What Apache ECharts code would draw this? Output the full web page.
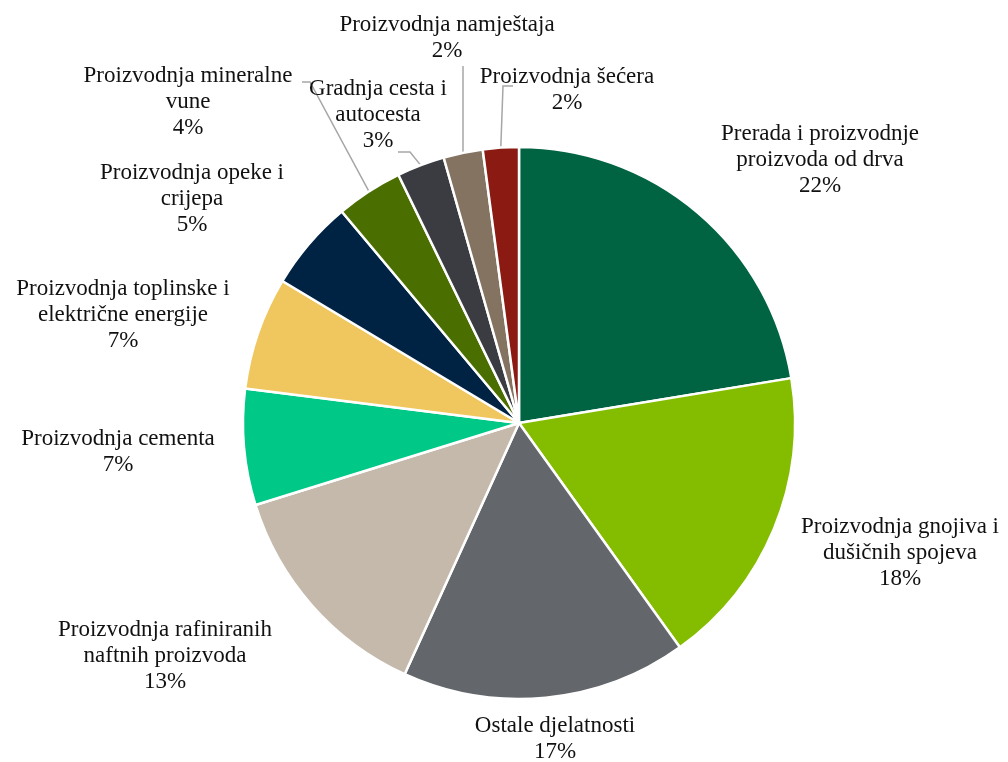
<!DOCTYPE html>
<html>
<head>
<meta charset="utf-8">
<script src="https://cdn.jsdelivr.net/npm/echarts@6/dist/echarts.min.js"></script>
<style>
html,body{margin:0;padding:0;background:#fff;}
#chart{width:1008px;height:762px;}
</style>
</head>
<body>
<div id="chart"></div>
<script>
// ---- data ----
const categories = [
  "Prerada i proizvodnje\nproizvoda od drva",
  "Proizvodnja gnojiva i\ndušičnih spojeva",
  "Ostale djelatnosti",
  "Proizvodnja rafiniranih\nnaftnih proizvoda",
  "Proizvodnja cementa",
  "Proizvodnja toplinske i\nelektrične energije",
  "Proizvodnja opeke i\ncrijepa",
  "Proizvodnja mineralne\nvune",
  "Gradnja cesta i\nautocesta",
  "Proizvodnja namještaja",
  "Proizvodnja šećera"
];
const values = [22.4, 17.7, 16.7, 13.4, 6.8, 6.6, 5.3, 3.9, 2.8, 2.3, 2.1];

// ---- style / layout (kept apart from the data) ----
const colors = ["#006341", "#84BD00", "#63666A", "#C4B9AB", "#00C886", "#F0C75E",
                "#002344", "#4A6F00", "#3A3C41", "#857361", "#8A1A12"];
// label block centres (Excel-like best-fit placement)
const labelCenters = [
  [820, 160], [900, 553], [555, 739], [165, 656], [118, 452], [123, 315],
  [192, 199], [188, 102], [378, 115], [447, 38], [567, 90]
];
// leader-line bend points for the small slices (start point comes from the slice edge)
const leaderBends = {
  7: [[310, 82], [302, 82]],
  8: [[410, 152], [398, 152]],
  9: [[463, 66]],
  10: [[503, 86], [513, 86]]
};

const total = values.reduce((a, b) => a + b, 0);
const pct = v => Math.round(v / total * 100);

const chart = echarts.init(document.getElementById('chart'), null, {renderer: 'canvas'});
chart.setOption({
  animation: false,
  color: colors,
  series: [{
    type: 'pie',
    center: [519, 423],
    radius: 276,
    startAngle: 90,
    clockwise: true,
    avoidLabelOverlap: false,
    itemStyle: {borderColor: '#fff', borderWidth: 2.5},
    label: {
      show: true,
      position: 'outside',
      fontFamily: '"Liberation Serif", "Times New Roman", serif',
      fontSize: 23,
      lineHeight: 26,
      color: '#111',
      formatter: p => p.name + '\n' + pct(p.value) + '%'
    },
    labelLine: {show: true, length: 10, length2: 10, smooth: false,
                lineStyle: {color: '#a6a6a6', width: 1.5}},
    labelLayout: function (params) {
      const i = params.dataIndex;
      const c = labelCenters[i];
      const out = {x: c[0], y: c[1], align: 'center', verticalAlign: 'middle'};
      if (leaderBends[i] && params.labelLinePoints) {
        out.labelLinePoints = [params.labelLinePoints[0]].concat(leaderBends[i]);
      }
      return out;
    },
    data: categories.map((c, i) => ({
      name: c,
      value: values[i],
      labelLine: {show: pct(values[i]) < 5}
    }))
  }]
});
</script>
</body>
</html>
